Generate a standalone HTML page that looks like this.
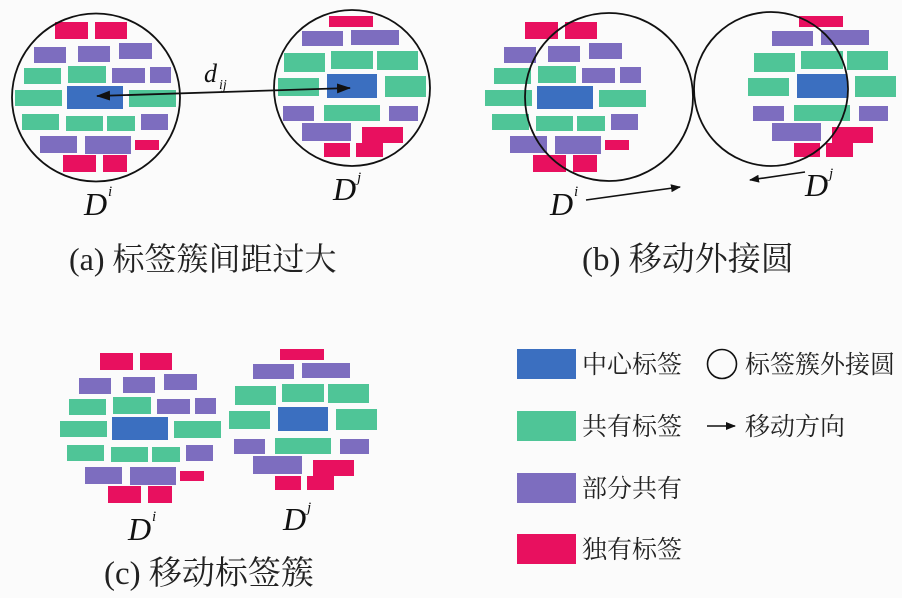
<!DOCTYPE html>
<html><head><meta charset="utf-8"><style>
html,body{margin:0;padding:0;background:#fbfbfb}
svg{display:block}
.t{font-family:"Liberation Serif","Noto Serif CJK SC",serif;fill:#222}
.c{font-family:"Liberation Serif","Noto Serif CJK SC",serif;fill:#222}
.m{font-family:"Liberation Serif",serif;font-style:italic;fill:#111}
</style></head><body>
<svg width="902" height="598" viewBox="0 0 902 598" xmlns="http://www.w3.org/2000/svg">
<defs>
<marker id="ah" markerWidth="10" markerHeight="8" refX="9" refY="4" orient="auto" markerUnits="userSpaceOnUse"><path d="M0,0 L10,4 L0,8 Z" fill="#111"/></marker>
<marker id="ah2" markerWidth="14" markerHeight="10" refX="13" refY="5" orient="auto-start-reverse" markerUnits="userSpaceOnUse"><path d="M0,0 L14,5 L0,10 Z" fill="#111"/></marker>
<g id="di">
<g fill="#e8105f"><rect x="55" y="22" width="33" height="17"/><rect x="95" y="22" width="32" height="17"/><rect x="135" y="140" width="24" height="10"/><rect x="63" y="155" width="33" height="17"/><rect x="103" y="155" width="24" height="17"/></g>
<g fill="#7d6dbf"><rect x="34" y="47" width="32" height="16"/><rect x="78" y="46" width="32" height="16"/><rect x="119" y="43" width="33" height="16"/><rect x="112" y="68" width="33" height="15"/><rect x="150" y="67" width="21" height="16"/><rect x="141" y="114" width="27" height="16"/><rect x="40" y="136" width="37" height="17"/><rect x="85" y="136" width="46" height="18"/></g>
<g fill="#4fc597"><rect x="24" y="68" width="37" height="16"/><rect x="68" y="66" width="38" height="17"/><rect x="15" y="90" width="47" height="16"/><rect x="129" y="90" width="47" height="17"/><rect x="22" y="114" width="37" height="16"/><rect x="66" y="116" width="37" height="15"/><rect x="107" y="116" width="28" height="15"/></g>
<rect x="67" y="86" width="56" height="23" fill="#3b6fc0"/>
</g>
<g id="dj">
<g fill="#e8105f"><rect x="329" y="16" width="44" height="11"/><rect x="362" y="127" width="41" height="16"/><rect x="324" y="143" width="26" height="14"/><rect x="356" y="143" width="27" height="14"/></g>
<g fill="#7d6dbf"><rect x="302" y="31" width="41" height="15"/><rect x="351" y="30" width="48" height="15"/><rect x="283" y="106" width="31" height="15"/><rect x="389" y="106" width="29" height="15"/><rect x="302" y="123" width="49" height="18"/></g>
<g fill="#4fc597"><rect x="284" y="53" width="41" height="19"/><rect x="331" y="51" width="42" height="18"/><rect x="377" y="51" width="41" height="19"/><rect x="278" y="78" width="41" height="18"/><rect x="385" y="76" width="41" height="21"/><rect x="324" y="105" width="56" height="16"/></g>
<rect x="327" y="74" width="50" height="24" fill="#3b6fc0"/>
</g>
</defs>

<use href="#di"/>
<use href="#dj"/>
<circle cx="96" cy="97.5" r="84" fill="none" stroke="#111" stroke-width="1.8"/>
<circle cx="352" cy="88" r="78" fill="none" stroke="#111" stroke-width="1.8"/>
<line x1="97" y1="96" x2="350" y2="88" stroke="#111" stroke-width="1.8" marker-start="url(#ah2)" marker-end="url(#ah2)"/>
<text class="m" x="204" y="82" font-size="26">d</text><text class="m" x="219" y="89" font-size="14">ij</text>
<text class="m" x="84" y="215" font-size="32">D</text><text class="m" x="108" y="196" font-size="15">i</text>
<text class="m" x="333" y="200" font-size="32">D</text><text class="m" x="357" y="182" font-size="15">j</text>
<text class="c" x="69" y="270" font-size="32">(a) 标签簇间距过大</text>

<use href="#di" transform="translate(470,0)"/>
<use href="#dj" transform="translate(470,0)"/>
<circle cx="609" cy="97" r="84" fill="none" stroke="#111" stroke-width="1.8"/>
<circle cx="771" cy="89" r="77" fill="none" stroke="#111" stroke-width="1.8"/>
<line x1="586" y1="200" x2="680" y2="187" stroke="#111" stroke-width="1.6" marker-end="url(#ah)"/>
<line x1="805" y1="172" x2="750" y2="180" stroke="#111" stroke-width="1.6" marker-end="url(#ah)"/>
<text class="m" x="550" y="215" font-size="32">D</text><text class="m" x="574" y="196" font-size="15">i</text>
<text class="m" x="805" y="196" font-size="32">D</text><text class="m" x="829" y="178" font-size="15">j</text>
<text class="c" x="582" y="270" font-size="33">(b) 移动外接圆</text>

<use href="#di" transform="translate(45,331)"/>
<use href="#dj" transform="translate(-49,333)"/>
<text class="m" x="128" y="540" font-size="32">D</text><text class="m" x="152" y="521" font-size="15">i</text>
<text class="m" x="283" y="530" font-size="32">D</text><text class="m" x="307" y="512" font-size="15">j</text>
<text class="c" x="104" y="584" font-size="33">(c) 移动标签簇</text>

<rect x="517" y="349" width="59" height="30" fill="#3b6fc0"/>
<rect x="517" y="411" width="59" height="30" fill="#4fc597"/>
<rect x="517" y="473" width="59" height="30" fill="#7d6dbf"/>
<rect x="517" y="534" width="59" height="30" fill="#e8105f"/>
<g class="t" font-size="25">
<text x="582" y="373">中心标签</text>
<text x="582" y="435">共有标签</text>
<text x="582" y="497">部分共有</text>
<text x="582" y="558">独有标签</text>
<text x="745" y="373">标签簇外接圆</text>
<text x="745" y="435">移动方向</text>
</g>
<circle cx="722" cy="364" r="14.5" fill="none" stroke="#111" stroke-width="1.6"/>
<line x1="707" y1="426" x2="735" y2="426" stroke="#111" stroke-width="1.6" marker-end="url(#ah)"/>
</svg>
</body></html>
